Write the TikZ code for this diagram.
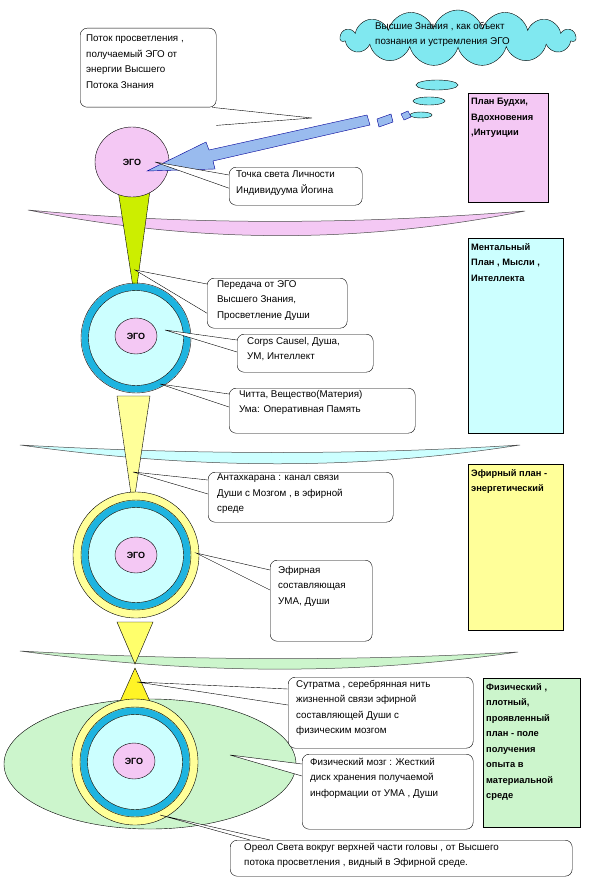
\documentclass[tikz,border=0pt]{standalone}
\usepackage{fontspec}
\setmainfont{Liberation Sans}
\usetikzlibrary{shapes.symbols,shapes.geometric}
\definecolor{pinkc}{HTML}{F4C8F4}
\definecolor{cyanl}{HTML}{CCFFFF}
\definecolor{ringb}{HTML}{1EB4E0}
\definecolor{yel}{HTML}{FFFF99}
\definecolor{grl}{HTML}{CCF5CC}
\definecolor{ygreen}{HTML}{CCEE00}
\definecolor{cloudc}{HTML}{80E8F0}
\definecolor{arrowc}{HTML}{99BBEE}
\tikzset{
 callout/.style={draw, rounded corners=7pt, fill=white, anchor=north west, inner sep=0pt},
 txt/.style={anchor=north west, align=left, font=\fontsize{9.8}{15.5}\selectfont, inner sep=0pt},
 plan/.style={draw, anchor=north west, inner sep=0pt},
 ptxt/.style={anchor=north west, align=left, font=\fontsize{9.3}{15.5}\selectfont\bfseries, inner sep=0pt},
 ego/.style={draw, ellipse, fill=pinkc, font=\fontsize{9}{10}\selectfont\bfseries},
 ln/.style={draw=black!70, line width=0.5pt},
}
\newcommand{\wedgeto}[3]{\fill[white] #1 -- #3 -- #2 -- cycle; \draw #1 -- #3 -- #2;}
\begin{document}
\begin{tikzpicture}[x=1pt,y=-1pt]
\useasboundingbox (0,0) rectangle (609,880);
\fill[white] (0,0) rectangle (609,880);
% cloud
\node[cloud, cloud puffs=15, aspect=4.2, draw, fill=cloudc, minimum width=235pt, minimum height=56pt] (cloud) at (458,38) {};
\node[txt] (cloudt) at (375,22) {Высшие Знания , как объект\\познания  и устремления ЭГО};
\draw[fill=cloudc] (437,85) ellipse (21 and 5);
\draw[fill=cloudc] (429,101) ellipse (16 and 4);
\draw[fill=cloudc] (421,115) ellipse (11 and 3);
% plan boxes
\node[plan, fill=pinkc, minimum width=80pt, minimum height=109pt] (p1) at (468,93) {};
\node[ptxt] at ([shift={(3,5)}]p1.north west) {План Будхи,\\Вдохновения\\,Интуиции};
\node[plan, fill=cyanl, minimum width=95pt, minimum height=195pt] (p2) at (468,238) {};
\node[ptxt] at ([shift={(3,5)}]p2.north west) {Ментальный\\План , Мысли ,\\Интеллекта};
\node[plan, fill=yel, minimum width=95pt, minimum height=166pt] (p3) at (468,464) {};
\node[ptxt] at ([shift={(3,5)}]p3.north west) {Эфирный план -\\энергетический};
\node[plan, fill=grl, minimum width=97pt, minimum height=149pt] (p4) at (483,678) {};
\node[ptxt] at ([shift={(3,5)}]p4.north west) {Физический ,\\плотный,\\проявленный\\план - поле\\получения\\опыта в\\материальной\\среде};
% lenses
\draw[ln, fill=pinkc] (28,210) .. controls (200,226) and (360,224) .. (525,211) .. controls (360,244) and (200,244) .. (28,210) -- cycle;
\draw[ln, fill=cyanl] (20,445) .. controls (200,455) and (360,455) .. (520,445) .. controls (360,470) and (200,470) .. (20,445) -- cycle;
\draw[ln, fill=grl] (20,651) .. controls (200,661) and (360,661) .. (518,652) .. controls (360,675) and (200,675) .. (20,651) -- cycle;
% big green ellipse
\draw[fill=grl] (150,764) ellipse (146 and 65);
% triangles
\draw[fill=ygreen] (118,190) -- (150,190) -- (135,300) -- cycle;
\coordinate (t1p) at (135,270);
\draw[fill=yel] (117,396) -- (150,396) -- (133,508) -- cycle;
\coordinate (t2p) at (133,472);
\draw[fill=yel!70!yellow] (117,622) -- (153,622) -- (135,664) -- cycle;
\draw[fill=yellow!85!white] (135,668) -- (152,706) -- (118,706) -- cycle;
\coordinate (t3p) at (137,682);
% ego 1
\node[ego, minimum width=74pt, minimum height=70pt] (e1) at (132,162) {ЭГО};
% ego 2
\draw[ringb, line width=7pt] (136,338) circle (51);
\fill[cyanl] (136,338) circle (47.5);
\draw (136,338) circle (55) (136,338) circle (47.5);
\node[ego, minimum width=42pt, minimum height=36pt] (e2) at (136,336) {ЭГО};
% ego 3
\draw[fill=yel] (136,555) circle (63);
\draw[ringb, line width=7pt] (136,555) circle (51);
\fill[cyanl] (136,555) circle (47.5);
\draw (136,555) circle (55) (136,555) circle (47.5);
\node[ego, minimum width=42pt, minimum height=36pt] (e3) at (136,555) {ЭГО};
% ego 4
\draw[fill=yel] (135,762) circle (63);
\draw[ringb, line width=7pt] (135,762) circle (51);
\fill[cyanl] (135,762) circle (47.5);
\draw (135,762) circle (55) (135,762) circle (47.5);
\node[ego, minimum width=42pt, minimum height=36pt] (e4) at (134,761) {ЭГО};
% blue arrow
\fill[arrowc, draw=blue!60!black] (367,115) -- (370,125) -- (213,161) -- (215,169) -- (147,171) -- (206,142) -- (209,150) -- cycle;
\draw[fill=arrowc, draw=blue!60!black] (377,119) -- (391,114) -- (393,122) -- (379,127) -- cycle;
\draw[fill=arrowc, draw=blue!60!black] (401,114) -- (408,111) -- (411,117) -- (404,120) -- cycle;
\coordinate (arr) at (312,118);
% callouts
\node[callout, minimum width=136pt, minimum height=79pt] (c1) at (80,28) {};
\wedgeto{([xshift=-4pt]c1.south east)}{([yshift=-18pt]c1.south east)}{(arr)}
\node[txt] at ([shift={(6,7)}]c1.north west) {Поток просветления ,\\получаемый ЭГО от\\энергии Высшего\\Потока Знания};
\node[callout, minimum width=133pt, minimum height=38pt] (c2) at (229,167) {};
\coordinate (e1p) at (155,162);
\wedgeto{([yshift=-2pt]c2.west)}{([yshift=-8pt]c2.north west)}{(e1p)}
\node[txt] at ([shift={(7,4)}]c2.north west) {Точка света Личности\\Индивидуума Йогина};
\node[callout, minimum width=140pt, minimum height=50pt] (c3) at (207,278) {};
\wedgeto{([yshift=-6pt]c3.north west)}{([yshift=-10pt]c3.west)}{(t1p)}
\node[txt] at ([shift={(10,2)}]c3.north west) {Передача от ЭГО\\Высшего Знания,\\Просветление Души};
\node[callout, minimum width=136pt, minimum height=38pt] (c4) at (237,334) {};
\coordinate (e2p) at (165,330);
\wedgeto{([yshift=-6pt]c4.north west)}{([yshift=-18pt]c4.north west)}{(e2p)}
\node[txt] at ([shift={(10,3)}]c4.north west) {Corps Causel, Душа,\\УМ, Интеллект};
\node[callout, minimum width=186pt, minimum height=45pt] (c5) at (229,388) {};
\coordinate (e2q) at (160,384);
\wedgeto{([yshift=-6pt]c5.north west)}{([yshift=-19pt]c5.north west)}{(e2q)}
\node[txt] at ([shift={(10,2)}]c5.north west) {Читта, Вещество(Материя)\\Ума: Оперативная Память};
\node[callout, minimum width=185pt, minimum height=50pt] (c6) at (208,472) {};
\wedgeto{([yshift=-8pt]c6.north west)}{([yshift=-22pt]c6.north west)}{(t2p)}
\node[txt] at ([shift={(9,2)}]c6.north west) {Антахкарана : канал связи\\Души с Мозгом , в эфирной\\среде};
\node[callout, minimum width=102pt, minimum height=81pt] (c7) at (270,560) {};
\coordinate (e3p) at (196,553);
\wedgeto{([yshift=-10pt]c7.north west)}{([yshift=-30pt]c7.north west)}{(e3p)}
\node[txt] at ([shift={(8,6)}]c7.north west) {Эфирная\\составляющая\\УМА, Души};
\node[callout, minimum width=185pt, minimum height=71pt] (c8) at (288,677) {};
\wedgeto{([yshift=-12pt]c8.north west)}{([yshift=-28pt]c8.north west)}{(t3p)}
\node[txt] at ([shift={(8,3)}]c8.north west) {Сутратма , серебрянная  нить\\жизненной связи эфирной\\составляющей Души с\\физическим мозгом};
\node[callout, minimum width=171pt, minimum height=75pt] (c9) at (302,754) {};
\coordinate (bp) at (230,755);
\wedgeto{([yshift=-10pt]c9.north west)}{([yshift=-22pt]c9.north west)}{(bp)}
\node[txt] at ([shift={(8,4)}]c9.north west) {Физический мозг : Жесткий\\диск хранения получаемой\\информации от УМА , Души};
\node[callout, minimum width=342pt, minimum height=36pt] (c10) at (230,840) {};
\coordinate (hp) at (160,815);
\wedgeto{([xshift=20pt]c10.north west)}{([xshift=40pt]c10.north west)}{(hp)}
\node[txt] at ([shift={(14,3)}]c10.north west) {Ореол Света вокруг верхней части головы ,  от Высшего\\потока просветления  , видный в Эфирной среде.};
\end{tikzpicture}
\end{document}
